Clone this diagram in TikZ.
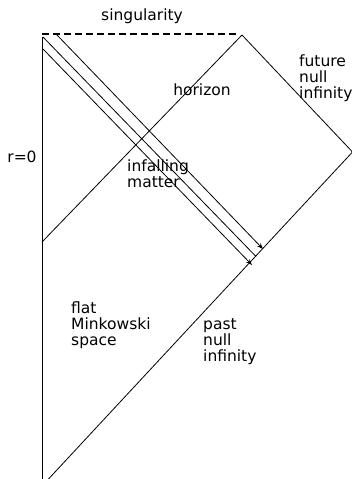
\documentclass[tikz,border=0pt]{standalone}
\usepackage{fontspec}
\setmainfont{DejaVu Sans}
\usetikzlibrary{arrows.meta}
\begin{document}
\begin{tikzpicture}[x=1pt,y=-1pt,
  edge/.style={line width=0.8pt,black},
  sing/.style={line width=1.6pt,dash pattern=on 7pt off 4pt},
  lbl/.style={inner sep=0pt,align=left,font=\fontsize{15.5}{16}\selectfont},
  tip/.style={-{Stealth[length=6pt,width=4.5pt]}}]
\useasboundingbox (0,0) rectangle (352,479);
\clip (0,0) rectangle (352,479);
\coordinate (sl) at (42,34);
\coordinate (sr) at (237,34);
\coordinate (top) at (42,37);
\coordinate (bot) at (42,486);
\coordinate (peak) at (242,35);
\coordinate (izero) at (352.5,152);
\coordinate (hor) at (42,242);
\coordinate (a1) at (43,37);
\coordinate (a2) at (256,256.5);
\coordinate (b1) at (57,35);
\coordinate (b2) at (263,249);
\coordinate (c1) at (43,49);
\coordinate (c2) at (252,265);
% boundaries
\draw[sing] (sl) -- (sr);
\draw[edge] (top) -- (bot);
\draw[edge] (peak) -- (izero);
\draw[edge] (bot) -- (izero);
\draw[edge] (hor) -- (peak);
% infalling matter
\draw[edge] (a1) -- (a2);
\draw[edge,tip] (b1) -- (b2);
\draw[edge,tip] (c1) -- (c2);
% labels
\node[lbl] (ls) at (142,16) {singularity};
\node[lbl] (lh) at (202,90) {horizon};
\node[lbl,anchor=west] (lf) at (299,78) {future\\null\\infinity};
\node[lbl] (lr) at (22,157) {r=0};
\node[lbl,anchor=west] (li) at (127,174) {infalling\\matter};
\node[lbl,anchor=west] (lm) at (71,325) {flat\\Minkowski\\space};
\node[lbl,anchor=west] (lp) at (203,342) {past\\null\\infinity};
\end{tikzpicture}
\end{document}
